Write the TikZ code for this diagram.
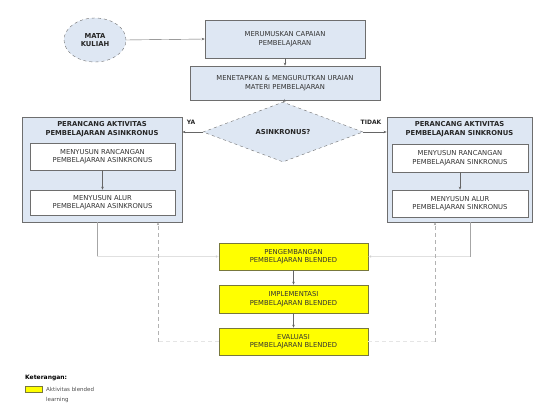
\documentclass[tikz,border=0pt]{standalone}
\usepackage{fontspec}
\setmainfont{DejaVu Sans}
\usetikzlibrary{shapes.geometric,arrows.meta}
\definecolor{lblue}{RGB}{222,231,243}
\definecolor{bord}{RGB}{110,110,110}
\definecolor{ylw}{RGB}{255,255,0}
\definecolor{ylwb}{RGB}{120,120,60}
\begin{document}
\begin{tikzpicture}[x=1pt,y=-1pt,
  txt/.style={font=\fontsize{6.8}{8.5}\selectfont, align=center, text=black!80},
  btxt/.style={font=\fontsize{6.8}{8.5}\selectfont\bfseries, align=center, text=black!85},
  bluebox/.style={txt, draw=bord, line width=0.6pt, fill=lblue, inner sep=1pt},
  whitebox/.style={txt, draw=bord, line width=0.6pt, fill=white, inner sep=1pt},
  bigbox/.style={draw=bord, line width=0.8pt, fill=lblue},
  ybox/.style={txt, draw=ylwb, line width=0.6pt, fill=ylw, inner sep=1pt, minimum width=149pt},
  arr/.style={-{Stealth[length=3pt,width=2.5pt]}, draw=black!60, line width=0.4pt},
  faint/.style={draw=black!35, line width=0.4pt},
  fainter/.style={draw=black!12, line width=0.4pt},
  fdash/.style={draw=black!30, line width=0.4pt, dash pattern=on 4pt off 3pt},
  fdasher/.style={draw=black!10, line width=0.4pt, dash pattern=on 4pt off 3pt}]
\useasboundingbox (0,0) rectangle (540,403);
% top
\node[ellipse, draw=bord, dashed, fill=lblue, minimum width=62pt, minimum height=44pt, inner sep=0pt, btxt] (mk) at (95,40) {MATA\\KULIAH};
\node[bluebox, minimum width=160pt, minimum height=38pt] (cp) at (285,39) {MERUMUSKAN CAPAIAN\\PEMBELAJARAN};
\node[bluebox, minimum width=190pt, minimum height=34pt] (mt) at (285,83) {MENETAPKAN \& MENGURUTKAN URAIAN\\MATERI PEMBELAJARAN};
\node[diamond, draw=bord, dashed, fill=lblue, minimum width=160pt, minimum height=50pt, inner sep=0pt, btxt] (dm) at (283,132) {ASINKRONUS?};
\draw[arr] (mk.east) -- (cp.west);
\draw[arr] (cp.south) -- (mt.north);
\draw[arr] (mt.south) -- (dm.north);
% left block
\node[bigbox, minimum width=160pt, minimum height=105pt] (lb) at (102,169.5) {};
\node[btxt] (lh) at (102,129) {PERANCANG AKTIVITAS\\PEMBELAJARAN ASINKRONUS};
\node[whitebox, minimum width=145pt, minimum height=27pt] (l1) at (102.5,156.5) {MENYUSUN RANCANGAN\\PEMBELAJARAN ASINKRONUS};
\node[whitebox, minimum width=145pt, minimum height=25pt] (l2) at (102.5,202.5) {MENYUSUN ALUR\\PEMBELAJARAN ASINKRONUS};
\draw[arr] (l1.south) -- (l2.north);
% right block
\node[bigbox, minimum width=145pt, minimum height=105pt] (rb) at (459.5,169.5) {};
\node[btxt] (rh) at (459.5,129) {PERANCANG AKTIVITAS\\PEMBELAJARAN SINKRONUS};
\node[whitebox, minimum width=136pt, minimum height=28pt] (r1) at (460,158) {MENYUSUN RANCANGAN\\PEMBELAJARAN SINKRONUS};
\node[whitebox, minimum width=136pt, minimum height=27pt] (r2) at (460,203.5) {MENYUSUN ALUR\\PEMBELAJARAN SINKRONUS};
\draw[arr] (r1.south) -- (r2.north);
% branches
\draw[arr] (dm.west) -- (lb.east |- dm.west);
\draw[arr] (dm.east) -- (rb.west |- dm.east);
\node[btxt, font=\fontsize{6}{7}\selectfont\bfseries] (ya) at (191,122) {YA};
\node[btxt, font=\fontsize{6}{7}\selectfont\bfseries] (td) at (371,122) {TIDAK};
% yellow
\node[ybox, minimum height=27pt] (y1) at (293.5,256.5) {PENGEMBANGAN\\PEMBELAJARAN BLENDED};
\node[ybox, minimum height=28pt] (y2) at (293.5,299) {IMPLEMENTASI\\PEMBELAJARAN BLENDED};
\node[ybox, minimum height=27pt] (y3) at (293.5,341.5) {EVALUASI\\PEMBELAJARAN BLENDED};
\draw[arr] (y1.south) -- (y2.north);
\draw[arr] (y2.south) -- (y3.north);
% links from side blocks
\coordinate (lc) at (97,256.5);
\coordinate (rc) at (470,256.5);
\draw[faint] (lb.south -| lc) -- (lc);
\draw[fainter, -{Stealth[length=3pt,width=2.5pt,fill=black!60]}] (lc) -- (y1.west);
\draw[faint] (rb.south -| rc) -- (rc);
\draw[fainter, -{Stealth[length=3pt,width=2.5pt,fill=black!60]}] (rc) -- (y1.east);
% feedback
\coordinate (lf) at (158,341.5);
\coordinate (rf) at (435,341.5);
\draw[fdasher] (y3.west) -- (lf);
\draw[fdash, -{Stealth[length=3pt,width=2.5pt,fill=black!70]}] (lf) -- (lb.south -| lf);
\draw[fdasher] (y3.east) -- (rf);
\draw[fdash, -{Stealth[length=3pt,width=2.5pt,fill=black!70]}] (rf) -- (rb.south -| rf);
% legend
\node[anchor=west, font=\fontsize{6}{7}\selectfont\bfseries, inner sep=0pt] (ket) at (25,378) {Keterangan:};
\node[draw=ylwb, fill=ylw, minimum width=17pt, minimum height=6pt, inner sep=0pt, line width=0.4pt] (lg) at (33.5,389.5) {};
\node[anchor=west, font=\fontsize{5.5}{6}\selectfont, text=black!70, inner sep=0pt] (lgt) at (46,389.5) {Aktivitas blended};
\node[anchor=west, font=\fontsize{5.5}{6}\selectfont, text=black!70, inner sep=0pt] (lgt2) at (46,400) {learning};
\end{tikzpicture}
\end{document}
